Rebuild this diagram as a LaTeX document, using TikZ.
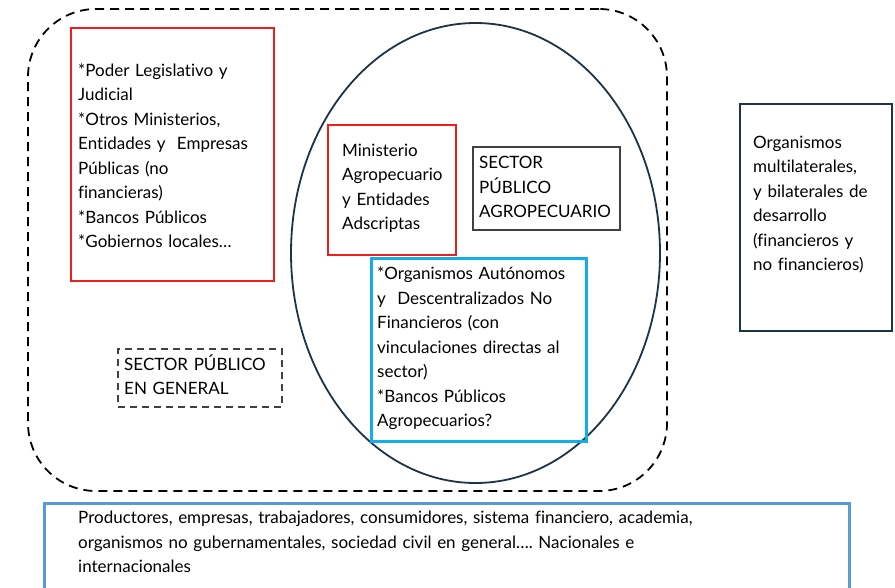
\documentclass[tikz,border=0pt]{standalone}
\usepackage{fontspec}
\setmainfont{Lato}[Ligatures={NoCommon}]
\usetikzlibrary{shapes.geometric}
\definecolor{redb}{HTML}{F21C1C}
\definecolor{cyanb}{HTML}{12AEEA}
\definecolor{blueb}{HTML}{5B9BD5}
\definecolor{slateb}{HTML}{1E3444}
\definecolor{grayb}{HTML}{404040}
\frenchspacing
\begin{document}
\begin{tikzpicture}[x=1pt,y=-1pt,
  box/.style={draw, rectangle, anchor=north west, inner sep=0pt, line width=2pt},
  txt/.style={anchor=base west, inner sep=0pt, align=left, text width=400pt,
    font=\fontsize{17}{24.5}\selectfont}]
\useasboundingbox (0,0) rectangle (895,587);
\fill[white] (0,0) rectangle (895,587);
% outer dashed rounded region
\node[draw, rectangle, rounded corners=68pt, dash pattern=on 9pt off 6pt,
  line width=1.8pt, minimum width=639pt, minimum height=482pt, inner sep=0pt]
  (general) at (347.5,250) {};
% ellipse
\node[draw=slateb, ellipse, line width=1.8pt, minimum width=369pt, minimum height=460pt, inner sep=0pt]
  (agro) at (475.5,253) {};
% boxes
\node[box, draw=redb, minimum width=203pt, minimum height=253pt] (red1) at (70,27) {};
\node[box, draw=redb, minimum width=128pt, minimum height=130pt] (red2) at (327,124) {};
\node[box, draw=grayb, minimum width=147pt, minimum height=83pt] (spa) at (472,146) {};
\node[box, draw=cyanb, line width=2.5pt, minimum width=215pt, minimum height=183pt] (org) at (370,257) {};
\node[box, draw=slateb, minimum width=152pt, minimum height=227pt] (multi) at (739,103) {};
\node[box, draw=grayb, dash pattern=on 7pt off 5pt, minimum width=164pt, minimum height=58pt] (spg) at (117,348) {};
\node[box, draw=blueb, line width=2.5pt, minimum width=805pt, minimum height=120pt] (soc) at (43,502) {};
% texts
\node[txt] (t1) at (78,76) {*Poder Legislativo y\\Judicial\\{}*Otros Ministerios,\\Entidades y\ \ Empresas\\Públicas (no\\financieras)\\{}*Bancos Públicos\\{}*Gobiernos locales…};
\node[txt] (t2) at (342,156) {Ministerio\\Agropecuario\\y Entidades\\Adscriptas};
\node[txt] (t3) at (479,168.5) {SECTOR\\PÚBLICO\\AGROPECUARIO};
\node[txt] (t4) at (377,279.5) {*Organismos Autónomos\\y\ \ Descentralizados No\\Financieros (con\\vinculaciones directas al\\sector)\\{}*Bancos Públicos\\Agropecuarios?};
\node[txt] (t5) at (753,148) {Organismos\\multilaterales,\\y bilaterales de\\desarrollo\\(financieros y\\no financieros)};
\node[txt] (t6) at (124,370) {SECTOR PÚBLICO\\EN GENERAL};
\node[txt, text width=780pt] (t7) at (78,523.5) {Productores, empresas, trabajadores, consumidores, sistema financiero, academia,\\organismos no gubernamentales, sociedad civil en general…. Nacionales e\\internacionales};
\end{tikzpicture}
\end{document}
